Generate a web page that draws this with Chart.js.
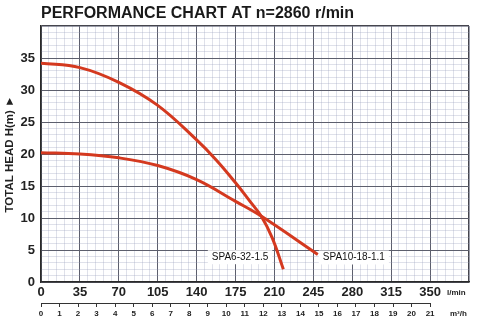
<!DOCTYPE html>
<html>
<head>
<meta charset="utf-8">
<script src="https://cdn.jsdelivr.net/npm/chart.js@4.4.1/dist/chart.umd.min.js"></script>
<style>
  html, body { margin: 0; padding: 0; background: #ffffff; }
  #wrap { width: 479px; height: 324px; position: relative; }
</style>
</head>
<body>
<div id="wrap"><canvas id="chart" width="479" height="324"></canvas></div>
<script>
// Flow (l/min) and total head (m) for each pump model
const flowSpa6 = [0, 35, 70, 105, 140, 158, 175, 188, 198, 208, 218];
const headSpa6 = [34.2, 33.5, 31.2, 27.6, 22.2, 19.0, 15.5, 12.6, 10.3, 6.9, 2.0];
const flowSpa10 = [0, 35, 70, 105, 140, 175, 198, 249];
const headSpa10 = [20.2, 20.0, 19.4, 18.2, 16.0, 12.6, 10.3, 4.3];

const modelNames = ['SPA6-32-1.5', 'SPA10-18-1.1'];
const titleText = 'PERFORMANCE CHART AT n=2860 r/min';

// Axis ranges and tick steps
const flowMax = 385;           // l/min
const flowStep = 35;
const flowLabelMax = 350;
const headMax = 40;            // m
const headStep = 5;
const LPM_PER_M3H = 1000 / 60; // 1 m³/h = 16.67 l/min
const m3hLabelMax = 21;

const FONT = '"Liberation Sans", Arial, Helvetica, sans-serif';
const RED = '#d4391f';

const toPoints = (qs, hs) => qs.map((q, i) => ({ x: q, y: hs[i] }));

const overlay = {
  id: 'overlay',
  afterDraw(chart) {
    const ctx = chart.ctx;
    const area = chart.chartArea;
    ctx.save();

    // Heading
    ctx.fillStyle = '#1a1a1a';
    ctx.font = 'bold 16px ' + FONT;
    ctx.textAlign = 'left';
    ctx.textBaseline = 'alphabetic';
    ctx.fillText(titleText, area.left, 18);

    // Model labels next to the curve ends
    ctx.font = '10px ' + FONT;
    ctx.textBaseline = 'middle';
    chart.data.datasets.forEach((ds, i) => {
      const meta = chart.getDatasetMeta(i);
      const last = meta.data[meta.data.length - 1];
      const w = ctx.measureText(ds.label).width;
      let x, y;
      if (i === 0) { x = last.x - 15 - w; y = last.y - 12; }
      else { x = last.x + 5; y = last.y + 3; }
      ctx.fillStyle = '#ffffff';
      ctx.fillRect(x - 4, y - 7, w + 8, 14);
      ctx.fillStyle = '#111111';
      ctx.textAlign = 'left';
      ctx.fillText(ds.label, x, y);
    });

    // m³/h scale baseline
    const sq = chart.scales.xq;
    ctx.strokeStyle = '#333333';
    ctx.lineWidth = 1;
    ctx.beginPath();
    ctx.moveTo(sq.getPixelForValue(0), sq.top + 0.5);
    ctx.lineTo(sq.getPixelForValue(m3hLabelMax), sq.top + 0.5);
    ctx.stroke();

    // Unit captions
    ctx.fillStyle = '#222222';
    ctx.font = 'bold 8px ' + FONT;
    ctx.textAlign = 'left';
    ctx.textBaseline = 'middle';
    ctx.fillText('l/min', 447, 293);
    ctx.fillText('m³/h', 450, 314);

    ctx.restore();
  }
};

new Chart(document.getElementById('chart'), {
  type: 'line',
  data: {
    datasets: [
      {
        label: modelNames[0],
        data: toPoints(flowSpa6, headSpa6),
        borderColor: RED,
        borderWidth: 3,
        pointRadius: 0,
        tension: 0.4,
        fill: false
      },
      {
        label: modelNames[1],
        data: toPoints(flowSpa10, headSpa10),
        borderColor: RED,
        borderWidth: 3,
        pointRadius: 0,
        tension: 0.4,
        fill: false
      }
    ]
  },
  options: {
    responsive: false,
    animation: false,
    layout: { padding: { top: 26, left: 0, right: 10, bottom: 0 } },
    plugins: {
      legend: { display: false },
      tooltip: { enabled: false },
      title: { display: false }
    },
    scales: {
      x: {
        type: 'linear',
        position: 'bottom',
        weight: 0,
        min: 0,
        max: flowMax,
        ticks: {
          stepSize: flowStep,
          autoSkip: false,
          maxRotation: 0,
          padding: 3,
          color: '#222222',
          font: { family: FONT, size: 13, weight: 'bold' },
          callback: v => (v <= flowLabelMax ? v : '')
        },
        grid: {
          color: '#45454d',
          lineWidth: c => (c.tick && c.tick.value === flowMax ? 1.5 : 1),
          drawTicks: false
        },
        border: { color: '#2a2a2a', width: 1.5 },
        afterFit: s => { s.height = 21; }
      },
      xq: {
        type: 'linear',
        position: 'bottom',
        weight: 1,
        min: 0,
        max: flowMax / LPM_PER_M3H,
        afterBuildTicks: s => { s.ticks = s.ticks.filter(t => t.value <= m3hLabelMax); },
        ticks: {
          stepSize: 1,
          autoSkip: false,
          maxRotation: 0,
          padding: 2,
          color: '#222222',
          font: { family: FONT, size: 8, weight: 'bold' }
        },
        grid: {
          drawOnChartArea: false,
          drawTicks: true,
          tickLength: 4,
          tickColor: '#333333'
        },
        border: { display: false },
        afterFit: s => { s.height = 21; }
      },
      xm: {
        type: 'linear',
        position: 'bottom',
        weight: -1,
        z: -1,
        min: 0,
        max: flowMax,
        ticks: { display: false, stepSize: 7 },
        grid: { color: 'rgba(150,155,185,0.3)', lineWidth: 1, drawTicks: false },
        border: { display: false },
        afterFit: s => { s.height = 0; }
      },
      y: {
        type: 'linear',
        position: 'left',
        weight: 0,
        min: 0,
        max: headMax,
        ticks: {
          stepSize: headStep,
          padding: 6,
          color: '#222222',
          font: { family: FONT, size: 13, weight: 'bold' },
          callback: v => (v < headMax ? v : '')
        },
        grid: {
          color: '#45454d',
          lineWidth: c => (c.tick && c.tick.value === headMax ? 1.5 : 1),
          drawTicks: false
        },
        border: { color: '#2a2a2a', width: 1.5 },
        title: {
          display: true,
          text: 'TOTAL HEAD H(m) ►',
          color: '#222222',
          font: { family: FONT, size: 11.5, weight: 'bold' },
          padding: { top: 3, bottom: 0 }
        },
        afterFit: s => { s.width = 41; }
      },
      ym: {
        type: 'linear',
        position: 'left',
        weight: -1,
        z: -1,
        min: 0,
        max: headMax,
        ticks: { display: false, stepSize: 1 },
        grid: { color: 'rgba(150,155,185,0.3)', lineWidth: 1, drawTicks: false },
        border: { display: false },
        afterFit: s => { s.width = 0; }
      }
    }
  },
  plugins: [overlay]
});
</script>
</body>
</html>
